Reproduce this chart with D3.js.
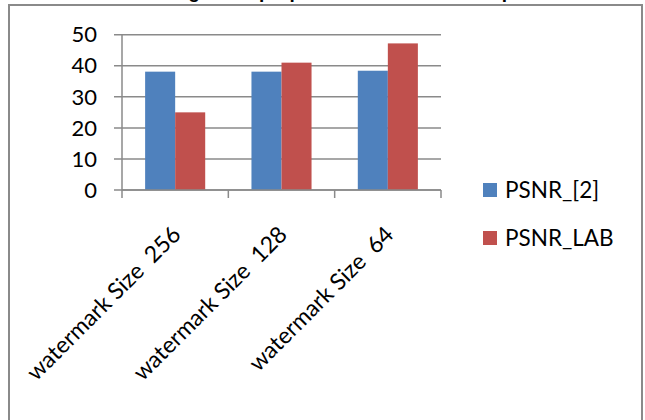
<!DOCTYPE html>
<html>
<head>
<meta charset="utf-8">
<script src="https://cdn.jsdelivr.net/npm/d3@7"></script>
<style>
  html, body { margin: 0; padding: 0; background: #fff; }
  svg { display: block; }
  text { font-family: Lato, "Open Sans", sans-serif; fill: #000; }
</style>
</head>
<body>
<svg id="chart" width="645" height="420"></svg>
<script>
// Chart data
const categories = ["watermark Size  256", "watermark Size  128", "watermark Size  64"];
const seriesNames = ["PSNR_[2]", "PSNR_LAB"];
const psnrRef = [38.1, 38.1, 38.4];
const psnrLab = [25.0, 41.0, 47.2];
const yTicks = [0, 10, 20, 30, 40, 50];
const titleText = "Watermarked image with proposed method in LAB space";

const colors = ["#4F81BD", "#C0504D"];
const seriesValues = [psnrRef, psnrLab];

const svg = d3.select("#chart");
const plotLeft = 122, plotRight = 441, plotTop = 34.7, plotBottom = 190;

// Title (its baseline sits just above the top edge)
svg.append("text")
  .attr("x", 545).attr("y", -2.5)
  .attr("text-anchor", "end")
  .style("font-weight", "bold")
  .style("font-size", "19px")
  .style("font-family", "'Liberation Sans', Arial, sans-serif")
  .text(titleText);

// Frame around the chart
svg.append("rect")
  .attr("x", 9).attr("y", 5).attr("width", 633).attr("height", 440)
  .attr("fill", "none").attr("stroke", "#8a8a8a").attr("stroke-width", 2);

const y = d3.scaleLinear().domain([0, 50]).range([plotBottom, plotTop]);
const x0 = d3.scaleBand().domain(categories).range([plotLeft, plotRight]).paddingInner(0).paddingOuter(0);
const x1 = d3.scaleBand().domain(seriesNames).range([0, x0.bandwidth()]).paddingInner(0).paddingOuter(0.77);

// Gridlines with left ticks
svg.append("g").selectAll("line").data(yTicks).join("line")
  .attr("x1", plotLeft - 8).attr("x2", plotRight)
  .attr("y1", d => y(d)).attr("y2", d => y(d))
  .attr("stroke", "#8a8a8a").attr("stroke-width", 1.5);

// Y axis line
svg.append("line")
  .attr("x1", plotLeft).attr("x2", plotLeft).attr("y1", plotTop).attr("y2", plotBottom)
  .attr("stroke", "#8a8a8a").attr("stroke-width", 1.5);

// Y tick labels
svg.append("g").selectAll("text").data(yTicks).join("text")
  .attr("x", 97).attr("y", d => y(d))
  .attr("dy", "0.35em")
  .attr("text-anchor", "end")
  .style("font-size", "22px")
  .text(d => d);

// Bars
const groups = svg.append("g").selectAll("g").data(categories).join("g")
  .attr("transform", d => `translate(${x0(d)},0)`);
groups.selectAll("rect")
  .data((d, i) => seriesNames.map((s, j) => ({ s, j, v: seriesValues[j][i] })))
  .join("rect")
  .attr("x", d => x1(d.s))
  .attr("width", x1.bandwidth())
  .attr("y", d => y(d.v))
  .attr("height", d => plotBottom - y(d.v))
  .attr("fill", d => colors[d.j]);

// X axis line and category ticks
svg.append("line")
  .attr("x1", plotLeft).attr("x2", plotRight).attr("y1", plotBottom).attr("y2", plotBottom)
  .attr("stroke", "#8a8a8a").attr("stroke-width", 1.5);
const bounds = categories.map(c => x0(c)).concat([plotRight]);
svg.append("g").selectAll("line").data(bounds).join("line")
  .attr("x1", d => d).attr("x2", d => d)
  .attr("y1", plotBottom).attr("y2", plotBottom + 8)
  .attr("stroke", "#8a8a8a").attr("stroke-width", 1.5);

// Rotated category labels
svg.append("g").selectAll("text").data(categories).join("text")
  .attr("text-anchor", "end")
  .attr("transform", d => `translate(${x0(d) + x0.bandwidth() / 2 + 7},236) rotate(-45)`)
  .style("font-size", "23px")
  .style("white-space", "pre")
  .text(d => d);

// Legend
const legend = svg.append("g").selectAll("g").data(seriesNames).join("g")
  .attr("transform", (d, i) => `translate(483,${190 + i * 48})`);
legend.append("rect")
  .attr("x", 0).attr("y", -7).attr("width", 14).attr("height", 14)
  .attr("fill", (d, i) => colors[i]);
legend.append("text")
  .attr("x", 22).attr("y", 0).attr("dy", "0.35em")
  .style("font-size", "22.5px")
  .text(d => d);
</script>
</body>
</html>
